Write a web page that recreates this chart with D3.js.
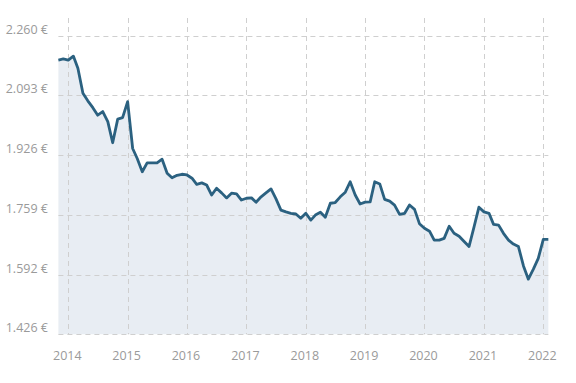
<!DOCTYPE html>
<html>
<head>
<meta charset="utf-8">
<script src="https://cdn.jsdelivr.net/npm/d3@7"></script>
<style>
  html, body { margin: 0; padding: 0; background: #fff; }
  svg { display: block; font-family: "Open Sans", "Segoe UI", sans-serif; }
</style>
</head>
<body>
<svg id="chart" width="576" height="383"></svg>
<script>
// ---- data ----
const startMonth = "2013-11";   // first monthly observation
const prices = [
  2192, 2195, 2192, 2203, 2169, 2099, 2078, 2059, 2038, 2048, 2020, 1961,
  2027, 2031, 2076, 1945, 1917, 1880, 1905, 1905, 1905, 1915, 1876, 1863,
  1870, 1873, 1871, 1862, 1845, 1849, 1843, 1815, 1834, 1821, 1807, 1820,
  1818, 1801, 1806, 1807, 1795, 1810, 1821, 1832, 1805, 1773, 1768, 1764,
  1762, 1750, 1764, 1745, 1759, 1767, 1753, 1792, 1794, 1810, 1823, 1852,
  1815, 1790, 1795, 1796, 1852, 1846, 1803, 1798, 1787, 1761, 1764, 1787,
  1775, 1735, 1722, 1714, 1689, 1689, 1694, 1728, 1708, 1700, 1685, 1671,
  1726, 1781, 1768, 1764, 1733, 1731, 1708, 1689, 1678, 1671, 1617, 1580,
  1608, 1638, 1691, 1691
];
const yearTicks = [2014, 2015, 2016, 2017, 2018, 2019, 2020, 2021, 2022];
const priceTicks = [1426, 1592, 1759, 1926, 2093, 2260];

// ---- build ----
const parseMonth = d3.timeParse("%Y-%m");
const start = parseMonth(startMonth);
const data = prices.map((v, i) => ({ date: d3.timeMonth.offset(start, i), value: v }));

const svg = d3.select("#chart");
const plotLeft = 58.4, plotTop = 18, plotBottom = 334.3;

const x = d3.scaleTime()
  .domain([new Date(2014, 0, 1), new Date(2022, 0, 1)])
  .range([68.3, 543.3]);
const y = d3.scaleLinear()
  .domain([1426, 2260])
  .range([334.3, 35.7]);

const plotRight = x(data[data.length - 1].date);

const locale = d3.formatLocale({ decimal: ",", thousands: ".", grouping: [3], currency: ["", " €"] });
const fmt = locale.format("$,.0f");

// area
const area = d3.area()
  .x(d => x(d.date))
  .y0(plotBottom)
  .y1(d => y(d.value));
svg.append("path")
  .datum(data)
  .attr("d", area)
  .attr("fill", "#e8edf3");

// grid lines
const grid = svg.append("g").attr("stroke", "#cfcfcf").attr("stroke-width", 1).attr("stroke-dasharray", "5,4");
grid.selectAll("line.h").data(priceTicks).join("line")
  .attr("x1", plotLeft).attr("x2", plotRight)
  .attr("y1", d => Math.round(y(d)) + 0.5).attr("y2", d => Math.round(y(d)) + 0.5);
grid.selectAll("line.v").data(yearTicks).join("line")
  .attr("x1", d => Math.round(x(new Date(d, 0, 1))) + 0.5)
  .attr("x2", d => Math.round(x(new Date(d, 0, 1))) + 0.5)
  .attr("y1", plotTop).attr("y2", plotBottom);

// line
const line = d3.line()
  .x(d => x(d.date))
  .y(d => y(d.value));
svg.append("path")
  .datum(data)
  .attr("d", line)
  .attr("fill", "none")
  .attr("stroke", "#2b6180")
  .attr("stroke-width", 2.8)
  .attr("stroke-linejoin", "round");

// y labels
svg.append("g").selectAll("text").data(priceTicks).join("text")
  .attr("x", 48)
  .attr("y", d => y(d) - 2)
  .attr("text-anchor", "end")
  .attr("font-size", 12.5)
  .attr("fill", "#9a9a9a")
  .text(d => fmt(d));

// x labels
svg.append("g").selectAll("text").data(yearTicks).join("text")
  .attr("x", d => x(new Date(d, 0, 1)) - 1)
  .attr("y", 359.5)
  .attr("text-anchor", "middle")
  .attr("font-size", 12.5)
  .attr("fill", "#9a9a9a")
  .text(d => d);
</script>
</body>
</html>
